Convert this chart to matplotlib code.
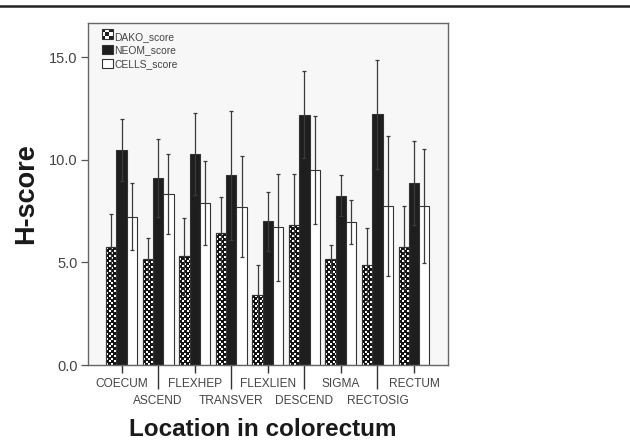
import numpy as np
import matplotlib
matplotlib.use('Agg')
from matplotlib import pyplot as plt
from matplotlib.patches import Patch, Rectangle
from matplotlib.lines import Line2D

plt.rcParams['font.family'] = ['Liberation Sans', 'DejaVu Sans']

categories = ['COECUM', 'ASCEND', 'FLEXHEP', 'TRANSVER', 'FLEXLIEN',
              'DESCEND', 'SIGMA', 'RECTOSIG', 'RECTUM']
dako = [5.76, 5.16, 5.29, 6.42, 3.43, 6.80, 5.16, 4.87, 5.73]
dako_err = [1.59, 1.01, 1.89, 1.77, 1.44, 2.49, 0.67, 1.79, 2.03]
neom = [10.47, 9.11, 10.26, 9.25, 7.00, 12.19, 8.25, 12.21, 8.85]
neom_err = [1.50, 1.88, 2.00, 3.14, 1.44, 2.13, 0.99, 2.66, 2.04]
cells = [7.22, 8.31, 7.89, 7.71, 6.71, 9.48, 6.97, 7.74, 7.74]
cells_err = [1.64, 1.95, 2.03, 2.47, 2.61, 2.63, 1.07, 3.41, 2.76]
series_names = ['DAKO_score', 'NEOM_score', 'CELLS_score']
yticks = [0.0, 5.0, 10.0, 15.0]

dark = '#1e1e1e'
edge = '#333333'
tickcol = '#444444'

fig = plt.figure(figsize=(6.3, 4.42), dpi=100)
ax = fig.add_axes([0.1397, 0.1742, 0.5714, 0.7738])
ax.set_facecolor('#f7f7f7')

# rule across the top of the figure
fig.add_artist(Line2D([0, 1], [0.986, 0.986], transform=fig.transFigure,
                      color='#222222', lw=1.8))

x = np.arange(len(categories))
w = 0.282
ax.set_xlim(-0.92, 8.93)
ax.set_ylim(0, 16.66)

b_dako = ax.bar(x - w, dako, w, color='white', edgecolor=edge, lw=0.8, zorder=2)
b_neom = ax.bar(x, neom, w, color=dark, edgecolor=edge, lw=0.8, zorder=2)
b_cells = ax.bar(x + w, cells, w, color='white', edgecolor=edge, lw=0.8, zorder=2)

# checker fill for DAKO bars (image at half-pixel resolution)
pxx = ax.bbox.width / (8.93 + 0.92)
pxy = ax.bbox.height / 16.66
for r in b_dako:
    x0, bw, bh = r.get_x(), r.get_width(), r.get_height()
    nc = int(round(bw * pxx * 2))
    nr = int(round(bh * pxy * 2))
    ii, jj = np.indices((nr, nc))
    pat = (((ii // 5) + (jj // 5)) % 2 == 0) & (ii % 5 < 4) & (jj % 5 < 4)
    img = np.where(pat, 1.0, 0.08)
    im = ax.imshow(img, extent=[x0, x0 + bw, 0, bh], origin='lower', cmap='gray',
                   vmin=0, vmax=1, interpolation='nearest', aspect='auto', zorder=2.1)
    im.set_clip_path(r)
    ax.add_patch(Rectangle((x0, 0), bw, bh, fill=False, edgecolor=edge, lw=0.8, zorder=2.2))

for off, vals, errs in [(-w, dako, dako_err), (0, neom, neom_err), (w, cells, cells_err)]:
    ax.errorbar(x + off, vals, yerr=errs, fmt='none', ecolor='#3a3a3a',
                elinewidth=0.9, capsize=1.2, capthick=0.9, zorder=3)

ax.set_xlim(-0.92, 8.93)
ax.set_ylim(0, 16.66)

ax.set_yticks(yticks)
ax.set_yticklabels(['%.1f' % v for v in yticks])
ax.tick_params(axis='y', direction='out', length=5, width=0.9, pad=2.5,
               labelsize=10.5, colors='#555555', labelcolor=tickcol)

ax.set_xticks(x[::2])
ax.set_xticklabels(categories[::2])
ax.set_xticks(x[1::2], minor=True)
ax.set_xticklabels(categories[1::2], minor=True)
ax.tick_params(axis='x', which='major', direction='out', length=6, width=1.0,
               pad=3.5, labelsize=8.6, colors='#333333', labelcolor=tickcol)
ax.tick_params(axis='x', which='minor', direction='out', length=17, width=1.0,
               pad=4.5, labelsize=8.6, colors='#333333', labelcolor=tickcol)

for s in ax.spines.values():
    s.set_color('#666666')
    s.set_linewidth(1.0)

ax.set_ylabel('H-score', fontsize=19.5, fontweight='bold', color='#1a1a1a')
ax.yaxis.set_label_coords(-0.135, 0.5)
ax.set_xlabel('Location in colorectum', fontsize=17.5, fontweight='bold', color='#1a1a1a')
ax.xaxis.set_label_coords(0.485, -0.155)


class CheckerHandler:
    def legend_artist(self, legend, orig_handle, fontsize, handlebox):
        x0, y0 = handlebox.xdescent, handlebox.ydescent
        hw, hh = handlebox.width, handlebox.height
        n = 3
        for i in range(n):
            for j in range(n):
                c = 'white' if (i + j) % 2 else dark
                handlebox.add_artist(Rectangle((x0 + i * hw / n, y0 + j * hh / n), hw / n, hh / n,
                                               facecolor=c, edgecolor='none',
                                               transform=handlebox.get_transform()))
        outline = Rectangle((x0, y0), hw, hh, fill=False, edgecolor=edge, lw=0.8,
                            transform=handlebox.get_transform())
        handlebox.add_artist(outline)
        return outline


h_dako = Patch(facecolor='white', edgecolor=edge)
h_neom = Patch(facecolor=dark, edgecolor=edge, lw=0.8)
h_cells = Patch(facecolor='white', edgecolor=edge, lw=0.8)
leg = ax.legend([h_dako, h_neom, h_cells], series_names, loc='upper left',
                bbox_to_anchor=(0.038, 0.975), frameon=False, fontsize=7.4,
                handlelength=1.1, handleheight=1.0, handletextpad=0.15,
                labelspacing=0.33, borderpad=0, borderaxespad=0,
                handler_map={h_dako: CheckerHandler()})
for t in leg.get_texts():
    t.set_color(tickcol)

fig.savefig('out.png', dpi=100)
